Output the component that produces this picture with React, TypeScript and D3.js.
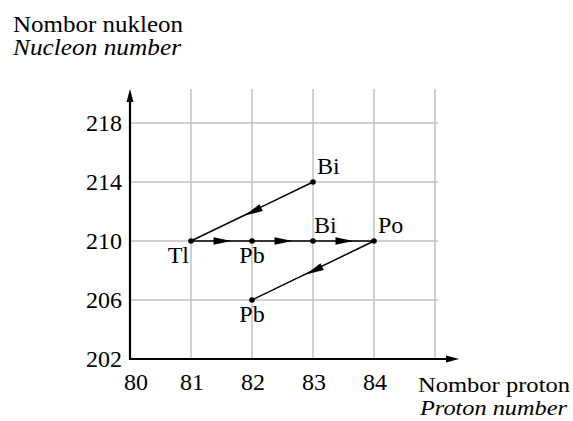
import React from "react";
import * as d3 from "d3";

const xTicks = [80, 81, 82, 83, 84];
const yTicks = [202, 206, 210, 214, 218];
const xGrid = [81, 82, 83, 84, 85];
const yGrid = [206, 210, 214, 218];

const nuclides = [
  { name: "Bi", z: 83, a: 214, pos: "ar" },
  { name: "Tl", z: 81, a: 210, pos: "bl" },
  { name: "Pb", z: 82, a: 210, pos: "b" },
  { name: "Bi", z: 83, a: 210, pos: "a" },
  { name: "Po", z: 84, a: 210, pos: "ar" },
  { name: "Pb", z: 82, a: 206, pos: "b" },
];

const decays: [number, number][] = [
  [0, 1],
  [1, 2],
  [2, 3],
  [3, 4],
  [4, 5],
];

const W = 573;
const H = 421;
const font = "'Liberation Serif', 'Times New Roman', serif";

export default function App() {
  const x = d3.scaleLinear().domain([80, 85]).range([130, 435]);
  const y = d3.scaleLinear().domain([202, 218]).range([359, 123]);
  const line = d3.line<[number, number]>().x((d) => d[0]).y((d) => d[1]);

  const arrowHead = (x1: number, y1: number, x2: number, y2: number, key: string) => {
    const mx = (x1 + x2) / 2 + 1;
    const my = (y1 + y2) / 2;
    const ang = Math.atan2(y2 - y1, x2 - x1);
    const L = 18;
    const Wd = 3.8;
    const tip: [number, number] = [mx + (L / 2) * Math.cos(ang), my + (L / 2) * Math.sin(ang)];
    const bx = mx - (L / 2) * Math.cos(ang);
    const by = my - (L / 2) * Math.sin(ang);
    const p1: [number, number] = [bx + Wd * Math.sin(ang), by - Wd * Math.cos(ang)];
    const p2: [number, number] = [bx - Wd * Math.sin(ang), by + Wd * Math.cos(ang)];
    return <path key={key} d={line([tip, p1, p2])! + "Z"} fill="#000" />;
  };

  const labelPos = (n: (typeof nuclides)[number]) => {
    const px = x(n.z);
    const py = y(n.a);
    switch (n.pos) {
      case "ar":
        return { tx: px + 4, ty: py - 8, anchor: "start" };
      case "a":
        return { tx: px + 1, ty: py - 8, anchor: "start" };
      case "bl":
        return { tx: px - 2, ty: py + 22, anchor: "end" };
      default:
        return { tx: px, ty: py + 22, anchor: "middle" };
    }
  };

  return (
    <svg
      width={W}
      height={H}
      style={{ position: "absolute", left: 0, top: 0, background: "#fff" }}
      fontFamily={font}
    >
      {/* grid */}
      {xGrid.map((v) => (
        <line key={"gx" + v} x1={x(v)} x2={x(v)} y1={89} y2={y(202)} stroke="#c2c2c2" strokeWidth={1.5} />
      ))}
      {yGrid.map((v) => (
        <line key={"gy" + v} x1={x(80)} x2={438} y1={y(v)} y2={y(v)} stroke="#c2c2c2" strokeWidth={1.5} />
      ))}
      {/* axes */}
      <line x1={x(80)} x2={x(80)} y1={y(202) + 1} y2={98} stroke="#000" strokeWidth={2.2} />
      <path d={`M${x(80)},89 L${x(80) - 3.5},102 L${x(80) + 3.5},102 Z`} fill="#000" />
      <line x1={x(80) - 1} x2={450} y1={y(202)} y2={y(202)} stroke="#000" strokeWidth={2.2} />
      <path d={`M459,${y(202)} L446,${y(202) - 3.5} L446,${y(202) + 3.5} Z`} fill="#000" />
      {/* ticks */}
      {yTicks.map((v) => (
        <text key={"ty" + v} x={122} y={y(v) + 8} textAnchor="end" fontSize={24}>
          {v}
        </text>
      ))}
      {xTicks.map((v, i) => (
        <text key={"tx" + v} x={x(v) + (i === 0 ? 6 : 1)} y={390} textAnchor="middle" fontSize={24}>
          {v}
        </text>
      ))}
      {/* titles */}
      <text x={13} y={32} fontSize={23} textLength={170} lengthAdjust="spacingAndGlyphs">Nombor nukleon</text>
      <text x={13} y={55} fontSize={23} fontStyle="italic" textLength={168} lengthAdjust="spacingAndGlyphs">Nucleon number</text>
      <text x={418} y={392} fontSize={22} textLength={152} lengthAdjust="spacingAndGlyphs">Nombor proton</text>
      <text x={420} y={415} fontSize={22} fontStyle="italic" textLength={147} lengthAdjust="spacingAndGlyphs">Proton number</text>
      {/* decays */}
      {decays.map(([i, j], k) => {
        const a = nuclides[i];
        const b = nuclides[j];
        const x1 = x(a.z), y1 = y(a.a), x2 = x(b.z), y2 = y(b.a);
        return (
          <g key={"d" + k}>
            <line x1={x1} y1={y1} x2={x2} y2={y2} stroke="#000" strokeWidth={1.5} />
            {arrowHead(x1, y1, x2, y2, "ah" + k)}
          </g>
        );
      })}
      {/* points & labels */}
      {nuclides.map((n, i) => {
        const lp = labelPos(n);
        return (
          <g key={"n" + i}>
            <circle cx={x(n.z)} cy={y(n.a)} r={2.8} fill="#000" />
            <text x={lp.tx} y={lp.ty} textAnchor={lp.anchor} fontSize={24}>
              {n.name}
            </text>
          </g>
        );
      })}
    </svg>
  );
}
